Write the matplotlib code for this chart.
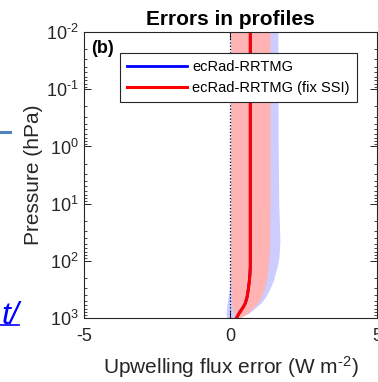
import numpy as np
import matplotlib
matplotlib.use('Agg')
import matplotlib.pyplot as plt
from matplotlib.lines import Line2D
from matplotlib.ticker import LogLocator, NullFormatter

plt.rcParams['font.family'] = ['Liberation Sans', 'DejaVu Sans']
plt.rcParams['mathtext.fontset'] = 'custom'
plt.rcParams['mathtext.rm'] = 'Liberation Sans'
plt.rcParams['mathtext.it'] = 'Liberation Sans:italic'
plt.rcParams['mathtext.bf'] = 'Liberation Sans:bold'

# Pressure levels (hPa) and flux errors (W m-2)
pres = [0.01, 1, 10, 44, 85, 125, 160, 220, 320, 430, 550, 630, 830, 1000]
red_mean = [0.68, 0.68, 0.68, 0.68, 0.68, 0.68, 0.67, 0.65, 0.61, 0.57, 0.51, 0.45, 0.30, 0.20]
red_lo = [0.02, 0.02, 0.02, 0.02, 0.02, 0.02, 0.02, 0.02, 0.03, 0.04, 0.05, 0.06, 0.12, 0.20]
red_hi = [1.35, 1.35, 1.35, 1.34, 1.32, 1.29, 1.27, 1.22, 1.15, 1.04, 0.93, 0.82, 0.58, 0.30]
blue_mean = [0.68, 0.68, 0.68, 0.68, 0.68, 0.68, 0.67, 0.65, 0.61, 0.57, 0.51, 0.45, 0.29, 0.22]
blue_lo = [0.0, 0.0, 0.0, 0.0, 0.0, -0.01, -0.01, -0.02, -0.04, -0.08, -0.11, -0.13, -0.15, -0.12]
blue_hi = [1.62, 1.63, 1.65, 1.69, 1.66, 1.60, 1.54, 1.47, 1.33, 1.20, 1.04, 0.90, 0.62, 0.30]

labels = ['ecRad-RRTMG', 'ecRad-RRTMG (fix SSI)']
yticks = [0.01, 0.1, 1, 10, 100, 1000]
ytick_labels = [r'$10^{\text{-}2}$', r'$10^{\text{-}1}$', '$10^{0}$', '$10^{1}$', '$10^{2}$', '$10^{3}$']

fig = plt.figure(figsize=(3.78, 3.82), dpi=100)
ax = fig.add_axes([0.222, 0.1675, 0.775, 0.7485])

ax.fill_betweenx(pres, blue_lo, blue_hi, color='#ccccff', lw=0)
ax.fill_betweenx(pres, red_lo, red_hi, color='#ffb3b3', lw=0)
ax.axvline(0, color='k', ls=':', lw=0.9)
ax.plot(blue_mean, pres, color='b', lw=2, label=labels[0])
ax.plot(red_mean, pres, color='r', lw=2.2, label=labels[1])

ax.set_yscale('log')
ax.set_ylim(1000, 0.01)
ax.set_xlim(-5, 5)
ax.set_xticks([-5, 0, 5])
ax.set_xticklabels(['-5', '0', '5'])
ax.yaxis.set_minor_locator(LogLocator(base=10, subs=np.arange(2, 10), numticks=20))
ax.yaxis.set_minor_formatter(NullFormatter())
ax.set_yticks(yticks)
ax.set_yticklabels(ytick_labels)

ax.tick_params(which='both', direction='in', top=True, right=True,
               colors='#262626', labelsize=13)
ax.tick_params(axis='x', pad=7)
ax.tick_params(axis='y', pad=4)
ax.tick_params(which='major', length=5, width=0.7)
ax.tick_params(which='minor', length=2.5, width=0.6)
for s in ax.spines.values():
    s.set_color('#262626')
    s.set_linewidth(0.8)

ax.set_xlabel(r'Upwelling flux error (W m$^{\text{-}2}$)', fontsize=15, color='#262626', labelpad=7)
ax.set_ylabel('Pressure (hPa)', fontsize=15, color='#262626', labelpad=2)
ax.set_title('Errors in profiles', fontsize=15, fontweight='bold', pad=5)
ax.text(0.023, 0.972, '(b)', transform=ax.transAxes, fontsize=13,
        fontweight='bold', va='top', ha='left')

leg = ax.legend(loc='upper left', bbox_to_anchor=(0.123, 0.927), borderaxespad=0,
                fontsize=10.5, handlelength=4.1, handletextpad=0.35, fancybox=False,
                framealpha=1, edgecolor='#262626', borderpad=0.5, labelspacing=0.45)
leg.get_frame().set_linewidth(0.8)

# bits of the neighbouring panel cut at the left edge
fig.add_artist(Line2D([0, 0.027], [0.654, 0.654], color='#4f81bd', lw=2.2))
fig.text(0.052, 0.152, 't/', color='b', fontsize=23, style='italic',
         ha='right', va='baseline')
fig.add_artist(Line2D([0, 0.05], [0.148, 0.148], color='b', lw=1.2))

fig.savefig('out.png', dpi=100)
